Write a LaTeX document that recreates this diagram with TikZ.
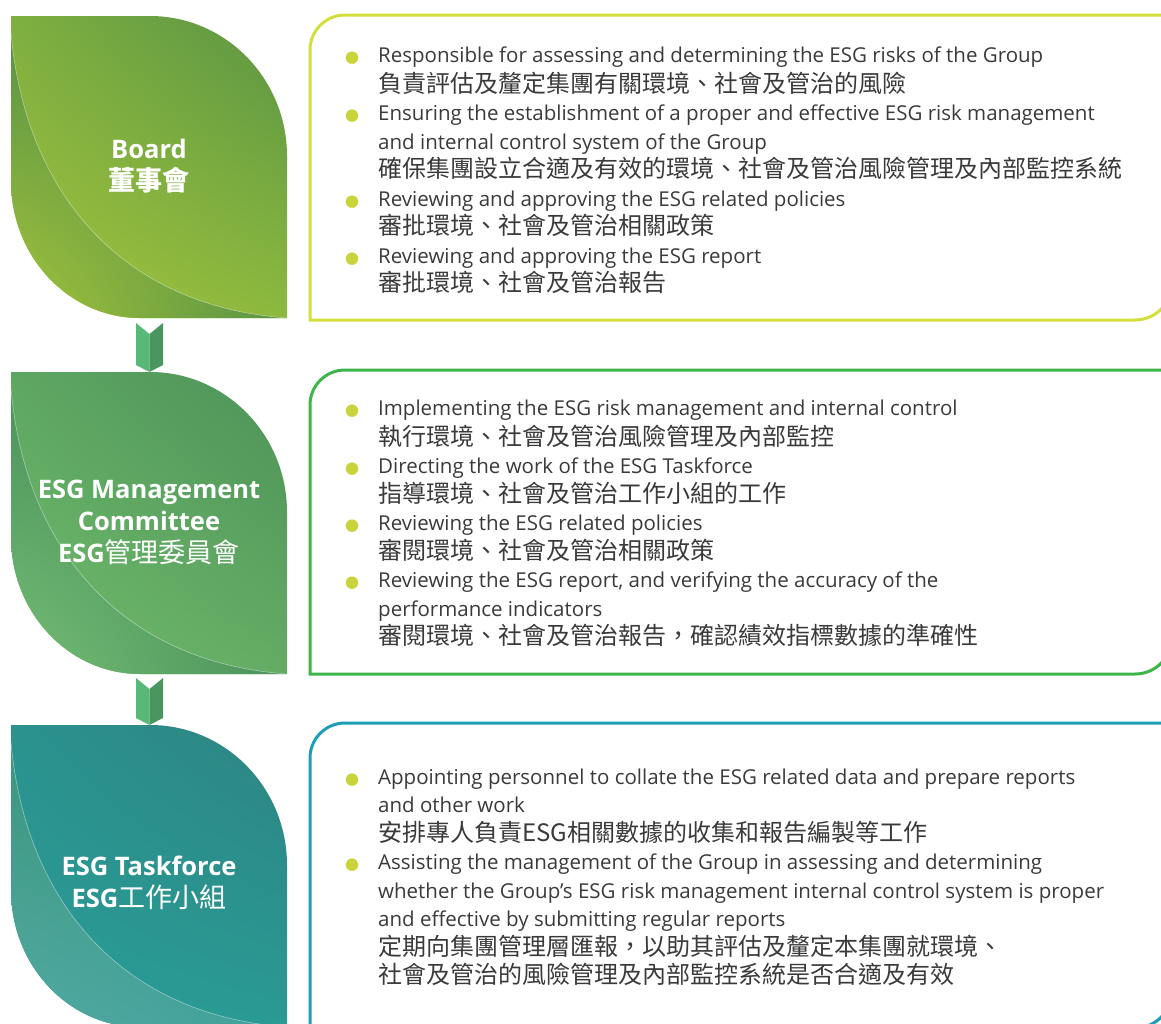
\documentclass[tikz,border=0pt]{standalone}
\usepackage{fontspec}
\setmainfont{Open Sans}
\newfontfamily\cjk{Noto Sans CJK TC}
\usetikzlibrary{calc,shadings}

\definecolor{txt}{HTML}{3A3A3A}
\definecolor{bulc}{HTML}{C9D43C}
\definecolor{boardline}{HTML}{D5DF3C}
\definecolor{mgmtline}{HTML}{3DB54A}
\definecolor{taskline}{HTML}{1E9EB5}
\definecolor{chevl}{HTML}{58B878}
\definecolor{chevr}{HTML}{4A9660}
% leaf colours: light, dark, mid, then fold dark, fold light, fold mid
\definecolor{boardL}{RGB}{163,195,60}
\definecolor{boardD}{RGB}{90,148,68}
\definecolor{boardM}{RGB}{126,175,64}
\definecolor{boardR}{RGB}{140,185,62}
\definecolor{boardFD}{RGB}{88,146,68}
\definecolor{boardFL}{RGB}{165,197,60}
\definecolor{boardFM}{RGB}{120,172,64}
\definecolor{mgmtL}{RGB}{112,187,108}
\definecolor{mgmtD}{RGB}{76,146,88}
\definecolor{mgmtM}{RGB}{94,167,98}
\definecolor{mgmtR}{RGB}{100,172,100}
\definecolor{mgmtFD}{RGB}{74,146,90}
\definecolor{mgmtFL}{RGB}{118,190,118}
\definecolor{mgmtFM}{RGB}{92,164,98}
\definecolor{taskL}{RGB}{42,157,151}
\definecolor{taskD}{RGB}{45,132,130}
\definecolor{taskM}{RGB}{43,146,142}
\definecolor{taskR}{RGB}{42,154,148}
\definecolor{taskFD}{RGB}{58,150,124}
\definecolor{taskFL}{RGB}{84,170,162}
\definecolor{taskFR}{RGB}{62,160,155}
\definecolor{taskFM}{RGB}{58,148,136}

\newcommand\zhfont{\cjk\fontsize{24}{28.5}\selectfont}
\newcommand\bul{\llap{\makebox[10pt]{\raisebox{-1pt}{\cjk\fontsize{14}{14}\selectfont\textcolor{bulc}{●}}}\hspace{21pt}}}

% leaf outline and fold, top of leaf at y=0
\newcommand\leafshape{(11,0) -- (150,0) .. controls (225.6,0) and (287,62.7) .. (287,140) -- (287,302) -- (140,302) .. controls (68.8,302) and (11,240.6) .. (11,165) -- cycle}
\newcommand\foldshape{(11,17) -- (11,165) .. controls (11,240.6) and (68.8,302) .. (140,302) -- (287,302) .. controls (120,290) and (25,175) .. (11,17) -- cycle}

% chevron from bottom of one leaf (#1) to top of the next (#2)
\newcommand\chev[2]{%
  \fill[chevl] ($(#1)+(-13.5,5)$) -- ($(#1)+(0,16)$) -- (#2) -- ($(#2)+(-13.5,-7)$) -- cycle;
  \fill[chevr] ($(#1)+(0,16)$) -- ($(#1)+(13.5,5)$) -- ($(#2)+(13.5,-7)$) -- (#2) -- cycle;}

% duty box, top #1 bottom #2 (y axis points down)
\newcommand\dutybox[2]{(345,#1) -- (1172,#1) -- (1172,#2-37) arc[start angle=0,end angle=90,radius=37] -- (310,#2) -- (310,#1+35) arc[start angle=180,end angle=270,radius=35] -- cycle}

\begin{document}
\begin{tikzpicture}[x=1pt,y=-1pt,
  lab/.style={text=white, align=center, inner sep=0, font=\bfseries\fontsize{25.5}{32}\selectfont},
  duty/.style={anchor=north west, inner sep=0, align=left, text=txt, font=\fontsize{20.5}{28.5}\selectfont},
  fold/.style={white, opacity=.45, line width=.6}]
\useasboundingbox (0,0) rectangle (1161,1023);
\clip (0,0) rectangle (1161,1023);

% leaves
\begin{scope}[shift={(0,16)}]
\shade[lower left=boardL, upper right=boardD, upper left=boardM, lower right=boardR] \leafshape;
\shade[upper left=boardFD, lower left=boardFL, lower right=boardFD, upper right=boardFM] \foldshape;
\draw[fold] (11,17) .. controls (25,175) and (120,290) .. (287,302);
\node[lab] (board) at (149,150) {Board\\{\cjk\fontsize{27}{30}\selectfont 董事會}};
\coordinate (board-s) at (149.5,302);
\end{scope}

\begin{scope}[shift={(0,372)}]
\shade[lower left=mgmtL, upper right=mgmtD, upper left=mgmtM, lower right=mgmtR] \leafshape;
\shade[upper left=mgmtFD, lower left=mgmtFL, lower right=mgmtFD, upper right=mgmtFM] \foldshape;
\draw[fold] (11,17) .. controls (25,175) and (120,290) .. (287,302);
\node[lab] (mgmt) at (149,150) {ESG Management\\Committee\\ESG{\cjk\mdseries\fontsize{27}{32}\selectfont 管理委員會}};
\coordinate (mgmt-n) at (149.5,0);
\coordinate (mgmt-s) at (149.5,301);
\end{scope}

\begin{scope}[shift={(0,725)}]
\shade[lower left=taskL, upper right=taskD, upper left=taskM, lower right=taskR] \leafshape;
\shade[upper left=taskFD, lower left=taskFL, lower right=taskFR, upper right=taskFM] \foldshape;
\draw[fold] (11,17) .. controls (25,175) and (120,290) .. (287,302);
\node[lab] (task) at (149,158) {ESG Taskforce\\ESG{\cjk\mdseries\fontsize{27}{32}\selectfont 工作小組}};
\coordinate (task-n) at (149.5,0);
\end{scope}

% connectors
\chev{board-s}{mgmt-n}
\chev{mgmt-s}{task-n}

% duty boxes
\draw[boardline, line width=3] \dutybox{15}{320};
\draw[mgmtline, line width=3] \dutybox{370}{674};
\draw[taskline, line width=3] \dutybox{723}{1028};

\node[duty] (board-duty) at (378,42) {\strut\bul Responsible for assessing and determining the ESG risks of the Group\\
{\zhfont 負責評估及釐定集團有關環境、社會及管治的風險}\\
\bul Ensuring the establishment of a proper and effective ESG risk management\\
and internal control system of the Group\\
{\zhfont 確保集團設立合適及有效的環境、社會及管治風險管理及內部監控系統}\\
\bul Reviewing and approving the ESG related policies\\
{\zhfont 審批環境、社會及管治相關政策}\\
\bul Reviewing and approving the ESG report\\
{\zhfont 審批環境、社會及管治報告}};

\node[duty] (mgmt-duty) at (378,395) {\strut\bul Implementing the ESG risk management and internal control\\
{\zhfont 執行環境、社會及管治風險管理及內部監控}\\
\bul Directing the work of the ESG Taskforce\\
{\zhfont 指導環境、社會及管治工作小組的工作}\\
\bul Reviewing the ESG related policies\\
{\zhfont 審閱環境、社會及管治相關政策}\\
\bul Reviewing the ESG report, and verifying the accuracy of the\\
performance indicators\\
{\zhfont 審閱環境、社會及管治報告，確認績效指標數據的準確性}};

\node[duty] (task-duty) at (378,764) {\strut\bul Appointing personnel to collate the ESG related data and prepare reports\\
and other work\\
{\zhfont 安排專人負責ESG相關數據的收集和報告編製等工作}\\
\bul Assisting the management of the Group in assessing and determining\\
whether the Group’s ESG risk management internal control system is proper\\
and effective by submitting regular reports\\
{\zhfont 定期向集團管理層匯報，以助其評估及釐定本集團就環境、}\\
{\zhfont 社會及管治的風險管理及內部監控系統是否合適及有效}};

\end{tikzpicture}
\end{document}
